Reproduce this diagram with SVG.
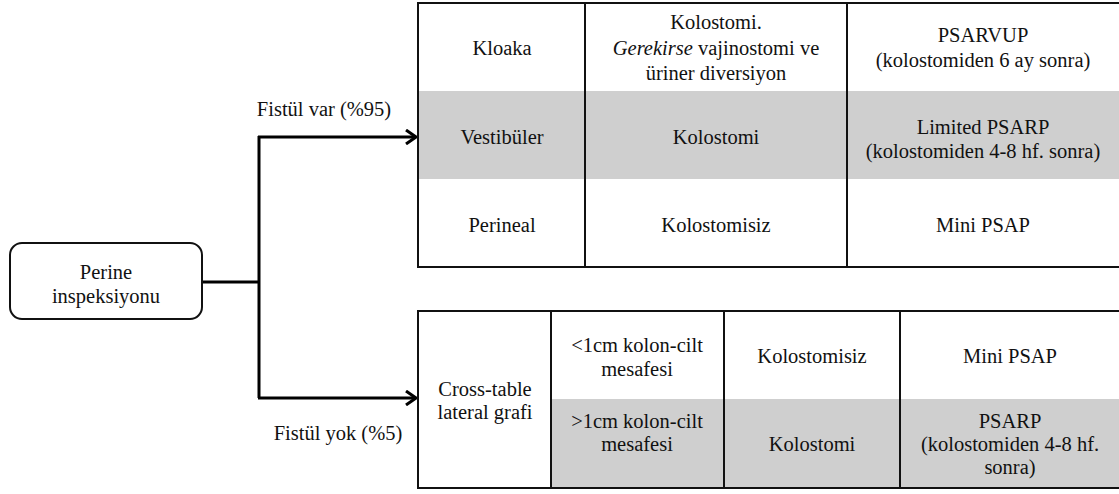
<svg xmlns="http://www.w3.org/2000/svg" width="1119" height="494" viewBox="0 0 1119 494">
<defs>
<style>
text{font-family:"Liberation Serif","Times New Roman",serif;font-size:20.5px;fill:#111;text-anchor:middle}
.ln{stroke:#111;stroke-width:2;fill:none}
.cn{stroke:#000;stroke-width:3;fill:none}
.gray{fill:#cfcfcf}
</style>
<marker id="arr" markerWidth="14" markerHeight="16" refX="12" refY="8" orient="auto" markerUnits="userSpaceOnUse">
<path d="M2,1 L12,8 L2,15" fill="none" stroke="#000" stroke-width="3"/>
</marker>
</defs>
<rect width="1119" height="494" fill="#fff"/>

<g id="connectors">
<path class="cn" d="M202,282 H259"/>
<path class="cn" d="M259,136 V398"/>
<path class="cn" d="M258,137 H416" marker-end="url(#arr)"/>
<path class="cn" d="M258,398 H416" marker-end="url(#arr)"/>
<text x="324" y="116">Fistül var (%95)</text>
<text x="338" y="440">Fistül yok (%5)</text>
</g>

<g id="perine">
<rect x="10" y="243" width="192" height="76" rx="12" fill="#fff" stroke="#111" stroke-width="2"/>
<text x="106" y="279">Perine</text>
<text x="106" y="303">inspeksiyonu</text>
</g>

<g id="table-fistul-var">
<rect class="gray" x="418" y="91" width="703" height="88"/>
<path class="ln" d="M1121,3 H418 V267 H1121"/>
<path class="ln" d="M585,3 V267 M847,3 V267"/>
<g id="kloaka">
<text x="502" y="55">Kloaka</text>
<text x="716" y="29">Kolostomi.</text>
<text x="716" y="55"><tspan font-style="italic">Gerekirse</tspan> vajinostomi ve</text>
<text x="716" y="80">üriner diversiyon</text>
<text x="983" y="42">PSARVUP</text>
<text x="983" y="67">(kolostomiden 6 ay sonra)</text>
</g>
<g id="vestibuler">
<text x="502" y="144">Vestibüler</text>
<text x="716" y="144">Kolostomi</text>
<text x="983" y="134">Limited PSARP</text>
<text x="983" y="158">(kolostomiden 4-8 hf. sonra)</text>
</g>
<g id="perineal">
<text x="502" y="232">Perineal</text>
<text x="716" y="232">Kolostomisiz</text>
<text x="983" y="232">Mini PSAP</text>
</g>
</g>

<g id="table-fistul-yok">
<rect class="gray" x="551" y="399" width="570" height="89"/>
<path class="ln" d="M1121,311 H418 V488 H1121"/>
<path class="ln" d="M551,311 V488 M724,311 V488 M900,311 V488"/>
<g id="cross-table">
<text x="485" y="396">Cross-table</text>
<text x="485" y="419">lateral grafi</text>
</g>
<g id="lt1cm">
<text x="637" y="352">&lt;1cm kolon-cilt</text>
<text x="637" y="376">mesafesi</text>
<text x="812" y="363">Kolostomisiz</text>
<text x="1010" y="363">Mini PSAP</text>
</g>
<g id="gt1cm">
<text x="637" y="428">&gt;1cm kolon-cilt</text>
<text x="637" y="451">mesafesi</text>
<text x="812" y="451">Kolostomi</text>
<text x="1010" y="428">PSARP</text>
<text x="1010" y="451">(kolostomiden 4-8 hf.</text>
<text x="1010" y="474">sonra)</text>
</g>
</g>
</svg>
